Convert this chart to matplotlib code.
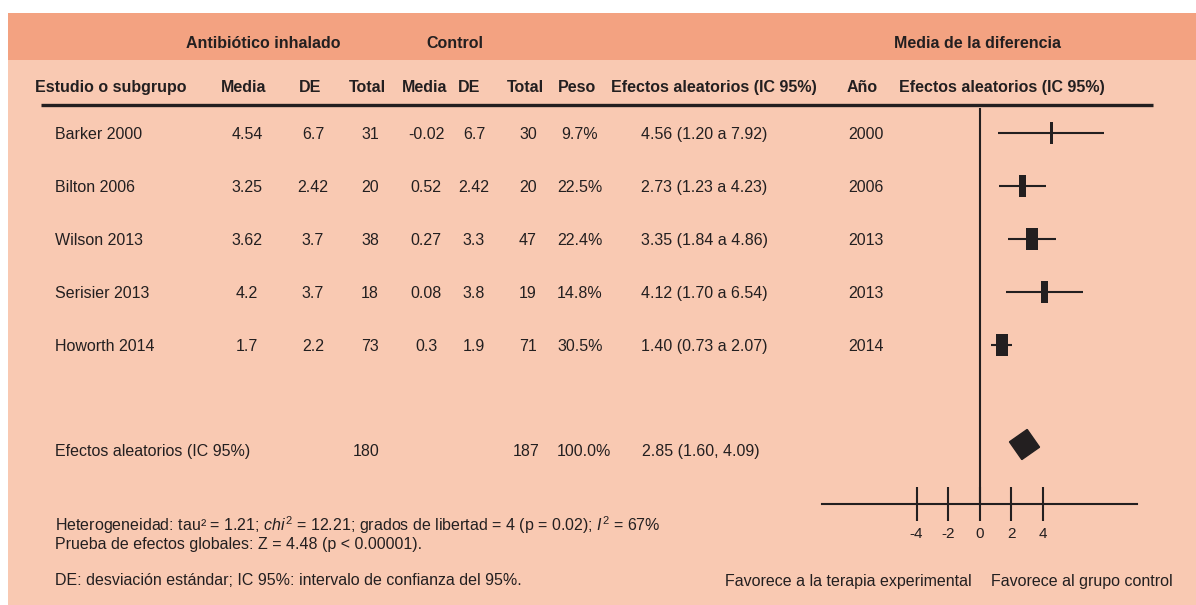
"""Forest plot: antibiotico inhalado vs control (media de la diferencia)."""
import matplotlib
matplotlib.use("Agg")
import matplotlib.pyplot as plt
import matplotlib as mpl
from matplotlib.patches import Rectangle

mpl.rcParams["font.family"] = ["Liberation Sans", "DejaVu Sans"]
mpl.rcParams["axes.unicode_minus"] = False
mpl.rcParams["mathtext.fontset"] = "custom"
mpl.rcParams["mathtext.rm"] = "Liberation Sans"
mpl.rcParams["mathtext.it"] = "Liberation Sans:italic"

C_TXT = "#231f20"
C_HEAD = "#f3a281"
C_BODY = "#f9c9b2"
FS = 11.5

# data
studies = ["Barker 2000", "Bilton 2006", "Wilson 2013", "Serisier 2013", "Howorth 2014"]
exp_mean = [4.54, 3.25, 3.62, 4.2, 1.7]
exp_sd = [6.7, 2.42, 3.7, 3.7, 2.2]
exp_n = [31, 20, 38, 18, 73]
ctl_mean = [-0.02, 0.52, 0.27, 0.08, 0.3]
ctl_sd = [6.7, 2.42, 3.3, 3.8, 1.9]
ctl_n = [30, 20, 47, 19, 71]
weight = [9.7, 22.5, 22.4, 14.8, 30.5]
md = [4.56, 2.73, 3.35, 4.12, 1.40]
ci_lo = [1.20, 1.23, 1.84, 1.70, 0.73]
ci_hi = [7.92, 4.23, 4.86, 6.54, 2.07]
years = [2000, 2006, 2013, 2013, 2014]

pooled_md = 2.85
pooled_lo = 1.60
pooled_hi = 4.09
total_exp = 180
total_ctl = 187
total_w = 100.0

ticks = [-4, -2, 0, 2, 4]
tick_labels = ["-4", "-2", "0", "2", "4"]

# layout (pixels)
W, H = 1196, 605
ROW0, ROW_H = 133, 53
SUM_ROW = 5.94
AXIS_ROW = 7
X0_PX, X1_PX = 822, 1137       # forest axes spans -10..10
XLIM = (-10, 10)
YLIM = (7.8, -0.6)
box_w_px = [2.7, 7, 12, 7, 12]  # widths of the study boxes as drawn
BOX_H_PX = 22


def row_px(r):
    return ROW0 + ROW_H * r


fig = plt.figure(figsize=(W / 100, H / 100), dpi=100)
bg = fig.add_axes([0, 0, 1, 1])
bg.set_xlim(0, W)
bg.set_ylim(H, 0)
bg.axis("off")

bg.add_patch(Rectangle((8, 13), W - 8, H - 13, color=C_BODY, lw=0))
bg.add_patch(Rectangle((8, 13), W - 8, 47, color=C_HEAD, lw=0))

BASE = 5.7  # cap-centre -> baseline offset


def txt(x, y, s, ha="center", bold=False):
    bg.text(x, y + BASE, s, ha=ha, va="baseline", fontsize=FS, color=C_TXT,
            fontweight="bold" if bold else "normal")


# group headers
txt(263, 42, "Antibiótico inhalado", bold=True)
txt(455, 42, "Control", bold=True)
txt(977, 42, "Media de la diferencia", bold=True)

# column headers
txt(35, 86, "Estudio o subgrupo", ha="left", bold=True)
for x, s in [(244, "Media"), (310, "DE"), (367, "Total"), (425, "Media"),
             (469, "DE"), (525, "Total"), (577, "Peso"),
             (714, "Efectos aleatorios (IC 95%)"), (862, "Año"),
             (1002, "Efectos aleatorios (IC 95%)")]:
    txt(x, 86, s, bold=True)

bg.plot([41, 1153], [105, 105], color=C_TXT, lw=2.4, solid_capstyle="butt")

# study rows
for i, name in enumerate(studies):
    y = row_px(i)
    txt(55, y, name, ha="left")
    txt(247, y, str(exp_mean[i]))
    txt(313, y, str(exp_sd[i]))
    txt(370, y, str(exp_n[i]))
    txt(426, y, str(ctl_mean[i]))
    txt(474, y, str(ctl_sd[i]))
    txt(528, y, str(ctl_n[i]))
    txt(580, y, f"{weight[i]:.1f}%")
    txt(641, y, f"{md[i]:.2f} ({ci_lo[i]:.2f} a {ci_hi[i]:.2f})", ha="left")
    txt(866, y, str(years[i]))

# summary row
ys = row_px(SUM_ROW) + 2
txt(55, ys, "Efectos aleatorios (IC 95%)", ha="left")
txt(366, ys, str(total_exp))
txt(526, ys, str(total_ctl))
txt(584, ys, f"{total_w:.1f}%")
txt(642, ys, f"{pooled_md:.2f} ({pooled_lo:.2f}, {pooled_hi:.2f})", ha="left")

# footnotes
txt(55, 525, "Heterogeneidad: tau² = 1.21; $chi^2$ = 12.21; grados de libertad = 4 "
             "(p = 0.02); $I^2$ = 67%", ha="left")
txt(55, 543, "Prueba de efectos globales: Z = 4.48 (p < 0.00001).", ha="left")
txt(55, 579, "DE: desviación estándar; IC 95%: intervalo de confianza del 95%.", ha="left")
txt(972, 580, "Favorece a la terapia experimental", ha="right")
txt(991, 580, "Favorece al grupo control", ha="left")

# forest axes
top_px, bot_px = row_px(YLIM[1]), row_px(YLIM[0])
ax = fig.add_axes([X0_PX / W, 1 - bot_px / H, (X1_PX - X0_PX) / W, (bot_px - top_px) / H])
ax.set_xlim(*XLIM)
ax.set_ylim(*YLIM)
ax.patch.set_visible(False)
px_x = (X1_PX - X0_PX) / (XLIM[1] - XLIM[0])

for i in range(len(studies)):
    ax.plot([ci_lo[i], ci_hi[i]], [i, i], color=C_TXT, lw=1.5, solid_capstyle="butt")
    bw = box_w_px[i] / px_x
    bh = BOX_H_PX / ROW_H
    ax.add_patch(Rectangle((md[i] - bw / 2, i - bh / 2), bw, bh, color=C_TXT, lw=0))

ax.plot(pooled_md, SUM_ROW - 0.07, marker=(4, 0, -10), ms=22, color=C_TXT, mec=C_TXT)

ax.vlines(0, -0.47, AXIS_ROW, color=C_TXT, lw=1.5)

for side in ["top", "right", "left"]:
    ax.spines[side].set_visible(False)
ax.spines["bottom"].set_position(("data", AXIS_ROW))
ax.spines["bottom"].set_linewidth(1.5)
ax.spines["bottom"].set_color(C_TXT)
ax.set_yticks([])
ax.set_xticks(ticks)
ax.set_xticklabels(tick_labels)
ax.tick_params(axis="x", direction="inout", length=24, width=1.5, colors=C_TXT,
               labelsize=11, pad=4.5)

fig.savefig("out.png", dpi=100)
plt.close()
print("saved out.png")
